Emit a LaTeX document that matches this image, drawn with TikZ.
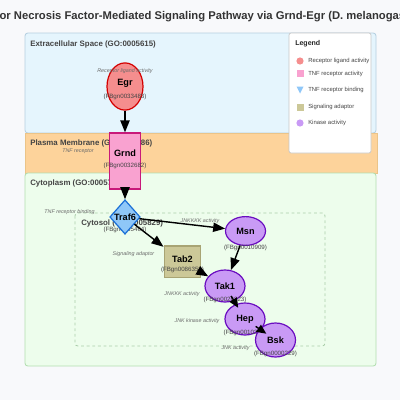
\documentclass[tikz,border=0pt]{standalone}
\usepackage{fontspec}
\setmainfont{Liberation Sans}
\usetikzlibrary{shapes.geometric,arrows.meta,calc}

\definecolor{bgc}{HTML}{F8F9FB}
\definecolor{extraf}{HTML}{E5F5FD}
\definecolor{extrad}{HTML}{B5CFE0}
\definecolor{membf}{HTML}{FDD39B}
\definecolor{membd}{HTML}{EBC488}
\definecolor{cytof}{HTML}{EDFDEC}
\definecolor{cytod}{HTML}{B2DEB0}
\definecolor{cytosold}{HTML}{A9CDA9}
\definecolor{ligandf}{HTML}{F58E8E}
\definecolor{ligandd}{HTML}{D40000}
\definecolor{recf}{HTML}{F9A2D0}
\definecolor{recd}{HTML}{C8197A}
\definecolor{bindf}{HTML}{8FC7F8}
\definecolor{bindd}{HTML}{1A6FD6}
\definecolor{adaptf}{HTML}{CCC898}
\definecolor{adaptd}{HTML}{A8A474}
\definecolor{kinf}{HTML}{C99AF5}
\definecolor{kind}{HTML}{6A0DC0}
\definecolor{txtgrey}{HTML}{444444}
\definecolor{actgrey}{HTML}{6A6A6A}

\begin{document}
\begin{tikzpicture}[x=0.25mm,y=-0.25mm,
	comptxt/.style={anchor=west,inner sep=0,text=txtgrey,font=\fontsize{5.6}{6}\selectfont\bfseries},
	gene/.style={inner sep=0,line width=0.85pt,font=\fontsize{6.5}{7}\selectfont\bfseries},
	ligand/.style={gene,ellipse,fill=ligandf,draw=ligandd,minimum width=9mm,minimum height=11.8mm},
	receptor/.style={gene,rectangle,fill=recf,draw=recd,minimum width=7.8mm,minimum height=14mm},
	binding/.style={gene,diamond,fill=bindf,draw=bindd,minimum width=7.6mm,minimum height=8.6mm},
	adaptor/.style={gene,rectangle,fill=adaptf,draw=adaptd,minimum width=9.2mm,minimum height=7.8mm},
	kinase/.style={gene,ellipse,fill=kinf,draw=kind,minimum width=10mm,minimum height=8mm},
	idtxt/.style={inner sep=0,text=txtgrey,font=\fontsize{4.4}{5}\selectfont},
	acttxt/.style={inner sep=0,text=actgrey,font=\fontsize{3.8}{4}\selectfont\itshape},
	legtxt/.style={anchor=west,inner sep=0,text=txtgrey,font=\fontsize{4.2}{5}\selectfont},
	flow/.style={line width=1pt,-{Triangle[length=3mm,width=2.3mm]}}]
	\useasboundingbox (0,0) rectangle (400,400);
	\clip (0,0) rectangle (400,400);
	\fill[bgc] (0,0) rectangle (400,400);
	\node[font=\fontsize{8}{9}\selectfont\bfseries,text=black!80] (title) at (200,17)
		{Tumor Necrosis Factor-Mediated Signaling Pathway via Grnd-Egr (D. melanogaster)};
	% compartments
	\draw[extrad,fill=extraf,line width=0.6pt,rounded corners=2] (25,33) rectangle (376,133);
	\draw[membd,fill=membf,line width=0.6pt] (25,133) rectangle (377,173);
	\draw[cytod,fill=cytof,line width=0.6pt,rounded corners=2] (25,173) rectangle (376,366);
	\draw[cytosold,line width=0.6pt,dash pattern=on 2pt off 2pt,rounded corners=2] (75,213) rectangle (325,346);
	\node[comptxt] (extra-lbl) at (30,44) {Extracellular Space (GO:0005615)};
	\node[comptxt] (memb-lbl) at (30,143) {Plasma Membrane (GO:0005886)};
	\node[comptxt] (cyto-lbl) at (30,183) {Cytoplasm (GO:0005737)};
	\node[comptxt] (cytosol-lbl) at (81,223) {Cytosol (GO:0005829)};
	% legend
	\draw[black!22,fill=white,line width=0.5pt,rounded corners=1.5] (289,33) rectangle (371,153);
	\node[anchor=west,inner sep=0,text=black!85,font=\fontsize{5}{6}\selectfont\bfseries] (leg-title) at (295,44) {Legend};
	\fill[ligandf] (300,61) circle (3.6);
	\node[legtxt] (leg-ligand) at (308,61) {Receptor ligand activity};
	\fill[recf] (296.5,70) rectangle (303.5,77);
	\node[legtxt] (leg-rec) at (308,73.5) {TNF receptor activity};
	\fill[bindf] (296.5,86.5) -- (303.5,86.5) -- (300,93.5) -- cycle;
	\node[legtxt] (leg-bind) at (308,90) {TNF receptor binding};
	\fill[adaptf] (296.5,103.5) rectangle (303.5,110.5);
	\node[legtxt] (leg-adapt) at (308,107) {Signaling adaptor};
	\fill[kinf] (300,123) circle (3.6);
	\node[legtxt] (leg-kin) at (308,123) {Kinase activity};
	% genes
	\node[ligand] (egr) at (125,86.5) {};
	\node[gene] (egr-name) at (125,83) {Egr};
	\node[acttxt] (egr-act) at (125,71) {Receptor ligand activity};
	\node[idtxt] (egr-id) at (125,97) {(FBgn0033483)};
	\node[receptor] (grnd) at (125,161) {};
	\node[gene] (grnd-name) at (125,153) {Grnd};
	\node[idtxt] (grnd-id) at (125,166) {(FBgn0032682)};
	\node[acttxt] (grnd-act) at (78,151) {TNF receptor};
	\node[idtxt] (traf6-id) at (125,230) {(FBgn0265464)};
	\node[binding] (traf6) at (125,217) {Traf6};
	\node[acttxt] (traf6-act) at (69.5,212.5) {TNF receptor binding};
	\node[kinase,minimum height=7.2mm] (msn) at (245.5,231) {Msn};
	\node[idtxt] (msn-id) at (245.5,248) {(FBgn0010909)};
	\node[acttxt] (msn-act) at (200,221) {JNKKKK activity};
	\node[adaptor] (tab2) at (182.5,261.5) {};
	\node[gene] (tab2-name) at (182.5,259) {Tab2};
	\node[idtxt] (tab2-id) at (182.5,270) {(FBgn0086358)};
	\node[acttxt] (tab2-act) at (133.5,254) {Signaling adaptor};
	\node[kinase] (tak1) at (225,286) {Tak1};
	\node[idtxt] (tak1-id) at (225,300) {(FBgn0026323)};
	\node[acttxt] (tak1-act) at (182,294) {JNKKK activity};
	\node[kinase] (hep) at (245,319) {Hep};
	\node[idtxt] (hep-id) at (245,333) {(FBgn0010303)};
	\node[acttxt] (hep-act) at (197,321) {JNK kinase activity};
	\node[kinase,minimum height=8.5mm] (bsk) at (275.5,340) {Bsk};
	\node[idtxt] (bsk-id) at (275.5,354) {(FBgn0000229)};
	\node[acttxt] (bsk-act) at (235.5,348) {JNK activity};
	% signalling
	\draw[flow] (egr) -- (grnd);
	\draw[flow] (grnd) -- (traf6);
	\draw[flow] (traf6) -- (msn);
	\draw[flow] (traf6) -- (tab2);
	\draw[flow] (tab2) -- (tak1);
	\draw[flow] (msn) -- (tak1);
	\draw[flow,-{Triangle[length=2.4mm,width=2.1mm]}] ($(tak1)!0.3!(hep)$) -- ($(tak1)!0.66!(hep)$);
	\draw[flow,-{Triangle[length=2.4mm,width=2.1mm]}] ($(hep)!0.35!(bsk)$) -- ($(hep)!0.7!(bsk)$);
\end{tikzpicture}
\end{document}
